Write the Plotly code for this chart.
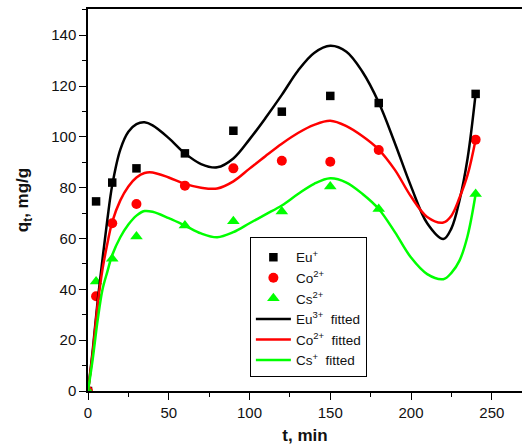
import plotly.graph_objects as go

# Experimental data
t_exp = [0, 5, 15, 30, 60, 90, 120, 150, 180, 240]
eu_exp = [0, 74.6, 82.0, 87.6, 93.5, 102.4, 109.9, 116.1, 113.3, 116.9]
co_exp = [0, 37.3, 66.0, 73.6, 80.8, 87.6, 90.6, 90.2, 94.8, 98.9]
cs_exp = [0, 43.1, 52.0, 60.8, 65.1, 66.8, 70.6, 80.5, 71.6, 77.5]

# Fitted curves
t_fit = [0, 3, 6, 9, 12, 15, 20, 25, 30, 35, 40, 50, 60, 70, 80, 90, 100, 110,
         120, 130, 140, 150, 160, 170, 180, 190, 200, 210, 220, 225, 230, 235, 240]
eu_fit = [0, 16.5, 35.6, 52, 67.5, 81, 95, 102, 105, 105.7, 104.5, 99.5, 93.5, 89.3, 88,
          91.5, 99, 107.5, 116.5, 126, 133, 135.8, 133.5, 125.5, 113.5, 97.5, 80.5, 66,
          59.8, 64, 75, 91.5, 117]
co_fit = [0, 15.5, 34, 48, 58, 66.5, 75, 80.5, 84, 85.8, 86, 84, 81.5, 80, 79.7,
          82.5, 87.5, 92.5, 97.3, 101.5, 104.7, 106.3, 104.2, 100.2, 95, 87, 76.5, 68.5,
          66.3, 69, 76, 85, 99]
cs_fit = [0, 13, 28, 40, 47, 53.5, 60.5, 65.5, 69, 70.8, 70.5, 68, 65.1, 62, 60.5,
          62.5, 66, 69.5, 73, 77.5, 81.5, 83.7, 82, 77.5, 71.6, 62.5, 52.5, 46,
          44, 46.5, 51.3, 61, 77.5]

BLACK = "#000000"
RED = "#FF0000"
GREEN = "#00FF00"

fig = go.Figure()
fig.add_trace(go.Scatter(x=t_exp, y=eu_exp, mode="markers", name="Eu<sup>+</sup>",
                         marker=dict(symbol="square", size=8.5, color=BLACK)))
fig.add_trace(go.Scatter(x=t_exp, y=co_exp, mode="markers", name="Co<sup>2+</sup>",
                         marker=dict(symbol="circle", size=10, color=RED)))
fig.add_trace(go.Scatter(x=t_exp, y=cs_exp, mode="markers", name="Cs<sup>2+</sup>",
                         marker=dict(symbol="triangle-up", size=11, color=GREEN)))
fig.add_trace(go.Scatter(x=t_fit, y=eu_fit, mode="lines", name="Eu<sup>3+</sup>  fitted",
                         line=dict(color=BLACK, width=2.5, shape="spline")))
fig.add_trace(go.Scatter(x=t_fit, y=co_fit, mode="lines", name="Co<sup>2+</sup>  fitted",
                         line=dict(color=RED, width=2.5, shape="spline")))
fig.add_trace(go.Scatter(x=t_fit, y=cs_fit, mode="lines", name="Cs<sup>+</sup>  fitted",
                         line=dict(color=GREEN, width=2.5, shape="spline")))

font_family = "Arial, Liberation Sans, sans-serif"
fig.update_layout(
    width=522, height=448,
    margin=dict(l=88, r=0, t=9, b=57),
    paper_bgcolor="white", plot_bgcolor="white",
    font=dict(family=font_family, size=15, color="#111111"),
    showlegend=True,
    legend=dict(x=0.373, y=0.403, xanchor="left", yanchor="top",
                bordercolor="black", borderwidth=1, bgcolor="white",
                font=dict(size=13.5, color="#111111"),
                title=dict(text=" ", font=dict(size=3)),
                tracegroupgap=0, itemwidth=35, entrywidth=85),
    xaxis=dict(range=[0, 268.7], tickmode="linear", tick0=0, dtick=50,
               ticks="outside", ticklen=7, tickwidth=1.2, tickcolor="black",
               showline=True, linecolor="black", linewidth=1.5, mirror=True,
               showgrid=False, zeroline=False, automargin=False,
               tickfont=dict(size=15),
               minor=dict(ticks="outside", ticklen=4, dtick=25, tickcolor="black", showgrid=False),
               title=dict(text="<b>t, min</b>", font=dict(size=17, color="#111111"), standoff=9)),
    yaxis=dict(range=[0, 150.3], tickmode="linear", tick0=0, dtick=20,
               ticks="outside", ticklen=7, tickwidth=1.2, tickcolor="black",
               showline=True, linecolor="black", linewidth=1.5, mirror=False,
               showgrid=False, zeroline=False, automargin=False,
               tickfont=dict(size=15),
               minor=dict(ticks="outside", ticklen=4, dtick=10, tickcolor="black", showgrid=False),
               title=dict(text="<b>q<sub>t</sub>, mg/g</b>", font=dict(size=17, color="#111111"), standoff=18)),
)

fig.write_html(
    "out.html",
    config={"responsive": False, "displayModeBar": False},
    post_script="document.body.style.margin='0';document.body.style.overflow='hidden';",
)
